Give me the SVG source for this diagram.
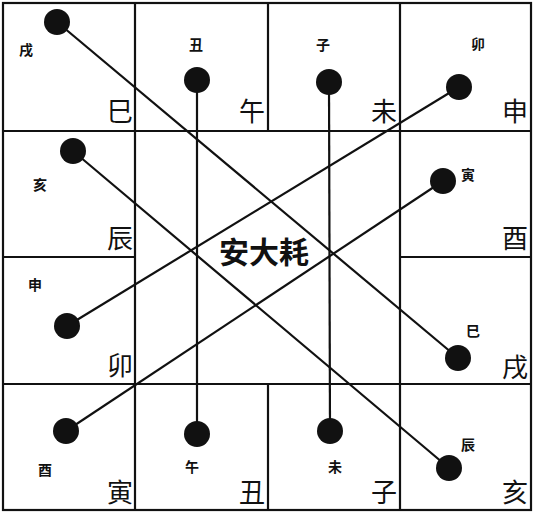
<svg xmlns="http://www.w3.org/2000/svg" width="534" height="513" viewBox="0 0 534 513">
<style>
.g{fill:none;stroke:#111;stroke-width:2.2}
.c{stroke:#111;stroke-width:2.2;fill:none}
.d{fill:#111}
.b{font-family:"Noto Sans CJK SC","Noto Sans CJK JP",sans-serif;font-size:26px;fill:#111;text-anchor:end}
.s{font-family:"Noto Sans CJK SC","Noto Sans CJK JP",sans-serif;font-size:14px;fill:#111;text-anchor:middle;font-weight:bold}
.t{font-family:"Noto Sans CJK SC","Noto Sans CJK JP",sans-serif;font-size:30px;font-weight:bold;fill:#111;text-anchor:middle}
</style>
<rect width="534" height="513" fill="#fff"/>
<g id="grid" class="g">
<rect x="3" y="3" width="528" height="507"/>
<line x1="3" y1="131" x2="531" y2="131"/>
<line x1="3" y1="384" x2="531" y2="384"/>
<line x1="3" y1="257" x2="135" y2="257"/>
<line x1="400" y1="257" x2="531" y2="257"/>
<line x1="135" y1="3" x2="135" y2="510"/>
<line x1="400" y1="3" x2="400" y2="510"/>
<line x1="268" y1="3" x2="268" y2="131"/>
<line x1="268" y1="384" x2="268" y2="510"/>
</g>
<g id="connectors" class="c">
<line x1="57" y1="22" x2="458" y2="358"/>
<line x1="73" y1="151" x2="449" y2="468"/>
<line x1="197" y1="80" x2="197" y2="434"/>
<line x1="329" y1="82" x2="330" y2="431"/>
<line x1="459" y1="87" x2="67" y2="326"/>
<line x1="443" y1="181" x2="66" y2="431"/>
</g>
<g id="center"><text class="t" x="264" y="263">安大耗</text></g>
<g id="n-si"><text class="b" x="133" y="121">巳</text><circle class="d" cx="57" cy="22" r="13"/><text class="s" x="26" y="55">戌</text></g>
<g id="n-wu"><text class="b" x="265" y="121">午</text><circle class="d" cx="197" cy="80" r="13"/><text class="s" x="196" y="50">丑</text></g>
<g id="n-wei"><text class="b" x="397" y="121">未</text><circle class="d" cx="329" cy="82" r="13"/><text class="s" x="323" y="50">子</text></g>
<g id="n-shen"><text class="b" x="528" y="121">申</text><circle class="d" cx="459" cy="87" r="13"/><text class="s" x="478" y="49">卯</text></g>
<g id="n-chen"><text class="b" x="133" y="248">辰</text><circle class="d" cx="73" cy="151" r="13"/><text class="s" x="40" y="190">亥</text></g>
<g id="n-you"><text class="b" x="528" y="248">酉</text><circle class="d" cx="443" cy="181" r="13"/><text class="s" x="468" y="180">寅</text></g>
<g id="n-mao"><text class="b" x="133" y="375">卯</text><circle class="d" cx="67" cy="326" r="13"/><text class="s" x="35" y="290">申</text></g>
<g id="n-xu"><text class="b" x="528" y="377">戌</text><circle class="d" cx="458" cy="358" r="13"/><text class="s" x="473" y="336">巳</text></g>
<g id="n-yin"><text class="b" x="133" y="502">寅</text><circle class="d" cx="66" cy="431" r="13"/><text class="s" x="45" y="475">酉</text></g>
<g id="n-chou"><text class="b" x="265" y="502">丑</text><circle class="d" cx="197" cy="434" r="13"/><text class="s" x="192" y="472">午</text></g>
<g id="n-zi"><text class="b" x="397" y="502">子</text><circle class="d" cx="330" cy="431" r="13"/><text class="s" x="335" y="472">未</text></g>
<g id="n-hai"><text class="b" x="528" y="502">亥</text><circle class="d" cx="449" cy="468" r="13"/><text class="s" x="468" y="450">辰</text></g>
</svg>
